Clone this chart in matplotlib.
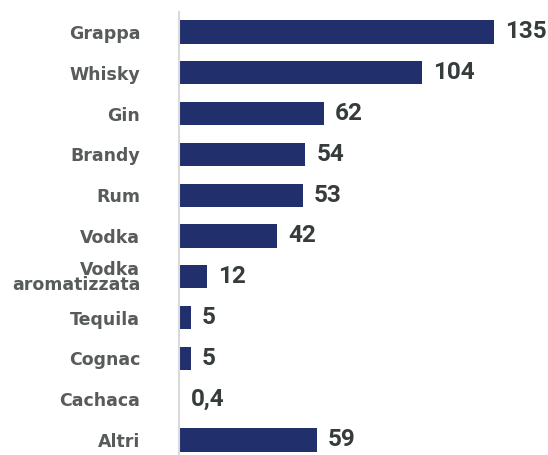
import matplotlib
matplotlib.use("Agg")
import matplotlib.pyplot as plt

categories = ["Grappa", "Whisky", "Gin", "Brandy", "Rum", "Vodka",
              "Vodka\naromatizzata", "Tequila", "Cognac", "Cachaca", "Altri"]
values = [135, 104, 62, 54, 53, 42, 12, 5, 5, 0.4, 59]
value_labels = ["135", "104", "62", "54", "53", "42", "12", "5", "5", "0,4", "59"]

bar_color = "#212f6d"
label_color = "#585b5b"
value_color = "#363b3b"

plt.rcParams['font.family'] = ['Roboto', 'DejaVu Sans']

fig = plt.figure(figsize=(5.48, 4.55), dpi=100)
ax = fig.add_axes([0.327, 0.0, 0.673, 0.9745])

pos = list(range(len(categories)))
ax.barh(pos, values, height=0.57, color=bar_color)

for p, v, lab in zip(pos, values, value_labels):
    ax.annotate(lab, (v, p), xytext=(8, 0), textcoords="offset points",
                ha="left", va="center", fontsize=17.5, fontweight="bold",
                color=value_color)

ax.set_yticks(pos)
ax.set_yticklabels(categories, fontsize=12.5, fontweight="bold",
                   color=label_color, linespacing=0.8,
                   family=["DejaVu Sans"])
ax.tick_params(axis="y", length=0, pad=28)
ax.set_xticks([])
ax.set_xlim(0, 158)
ax.set_ylim(10.37, -0.5)

for s in ["top", "right", "bottom"]:
    ax.spines[s].set_visible(False)
ax.spines["left"].set_color("#d9d9d9")
ax.spines["left"].set_linewidth(1.5)

fig.savefig("out.png", dpi=100)
plt.close()
